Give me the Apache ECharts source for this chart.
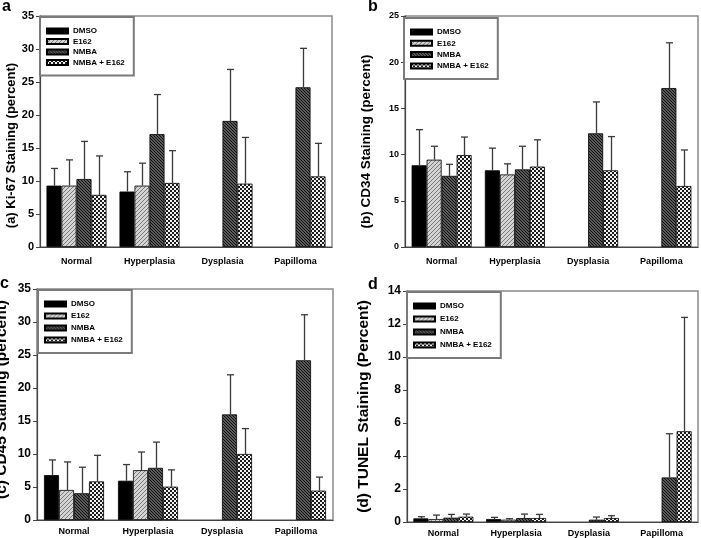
<!DOCTYPE html>
<html><head><meta charset="utf-8">
<script src="https://cdn.jsdelivr.net/npm/echarts@6/dist/echarts.min.js"></script>
<style>html,body{margin:0;padding:0;background:#fff}#c{width:701px;height:538px}</style>
</head><body><div id="c"></div>
<script>
const categories = ['Normal', 'Hyperplasia', 'Dysplasia', 'Papilloma'];
const seriesNames = ['DMSO', 'E162', 'NMBA', 'NMBA + E162'];

// Panel a: Ki-67
const aDMSO = [9.3, 8.4, null, null];      const aDMSOErr = [11.9, 11.4, null, null];
const aE162 = [9.3, 9.3, null, null];      const aE162Err = [13.2, 12.7, null, null];
const aNMBA = [10.3, 17.1, 19.1, 24.2];    const aNMBAErr = [16.0, 23.1, 26.9, 30.1];
const aNMBAE162 = [7.9, 9.7, 9.6, 10.7];   const aNMBAE162Err = [13.8, 14.6, 16.6, 15.7];

// Panel b: CD34
const bDMSO = [8.85, 8.3, null, null];     const bDMSOErr = [12.7, 10.7, null, null];
const bE162 = [9.45, 7.85, null, null];    const bE162Err = [10.9, 9.0, null, null];
const bNMBA = [7.7, 8.4, 12.3, 17.2];      const bNMBAErr = [8.95, 10.9, 15.7, 22.1];
const bNMBAE162 = [9.95, 8.7, 8.3, 6.6];   const bNMBAE162Err = [11.9, 11.6, 11.95, 10.5];

// Panel c: CD45
const cDMSO = [6.8, 5.95, null, null];     const cDMSOErr = [9.1, 8.4, null, null];
const cE162 = [4.55, 7.55, null, null];    const cE162Err = [8.8, 10.3, null, null];
const cNMBA = [4.05, 7.9, 16.0, 24.2];     const cNMBAErr = [8.0, 11.8, 22.0, 31.1];
const cNMBAE162 = [5.85, 5.05, 10.0, 4.45];const cNMBAE162Err = [9.8, 7.6, 13.85, 6.5];

// Panel d: TUNEL
const dDMSO = [0.22, 0.18, null, null];    const dDMSOErr = [0.32, 0.28, null, null];
const dE162 = [0.18, 0.14, null, null];    const dE162Err = [0.42, 0.2, null, null];
const dNMBA = [0.26, 0.24, 0.14, 2.7];     const dNMBAErr = [0.46, 0.48, 0.3, 5.35];
const dNMBAE162 = [0.32, 0.24, 0.24, 5.5]; const dNMBAE162Err = [0.48, 0.46, 0.38, 12.4];

const yTitles = ['(a) Ki-67 Staining (percent)', '(b) CD34 Staining (percent)', '(c) CD45 Staining (percent)', '(d) TUNEL Staining (Percent)'];
const panelLetters = ['a', 'b', 'c', 'd'];
const yMax = [35, 25, 35, 14];
const yInterval = [5, 5, 5, 2];

const panels = [
  { vals: [aDMSO, aE162, aNMBA, aNMBAE162], errs: [aDMSOErr, aE162Err, aNMBAErr, aNMBAE162Err] },
  { vals: [bDMSO, bE162, bNMBA, bNMBAE162], errs: [bDMSOErr, bE162Err, bNMBAErr, bNMBAE162Err] },
  { vals: [cDMSO, cE162, cNMBA, cNMBAE162], errs: [cDMSOErr, cE162Err, cNMBAErr, cNMBAE162Err] },
  { vals: [dDMSO, dE162, dNMBA, dNMBAE162], errs: [dDMSOErr, dE162Err, dNMBAErr, dNMBAE162Err] }
];

// ---- patterns ----
function tile(n, draw) {
  const cv = document.createElement('canvas'); cv.width = n; cv.height = n;
  const g = cv.getContext('2d'); draw(g, n); return cv;
}
const patE162 = tile(4, (g, n) => {
  g.fillStyle = '#d4d4d4'; g.fillRect(0, 0, n, n);
  g.fillStyle = '#7a7a7a';
  for (let i = 0; i < n; i++) g.fillRect(i, n - 1 - i, 1, 1);
});
const patNMBA = tile(3, (g, n) => {
  g.fillStyle = '#5a5a5a'; g.fillRect(0, 0, n, n);
  g.fillStyle = '#111';
  for (let i = 0; i < n; i++) g.fillRect(i, i, 1, 1);
});
const patCheck = tile(4, (g, n) => {
  g.fillStyle = '#f2f2f2'; g.fillRect(0, 0, n, n);
  g.fillStyle = '#1a1a1a';
  g.fillRect(0, 0, 2, 2); g.fillRect(2, 2, 2, 2);
});
const fills = [
  '#000',
  { image: patE162, repeat: 'repeat' },
  { image: patNMBA, repeat: 'repeat' },
  { image: patCheck, repeat: 'repeat' }
];

// ---- layout ----
const grids = [
  { left: 40, top: 16, width: 292, height: 231 },
  { left: 405, top: 16, width: 293, height: 231 },
  { left: 37, top: 289, width: 296, height: 231 },
  { left: 407, top: 291, width: 291, height: 231 }
];
const tickFont = [11, 9, 12, 12];
const nameFont = [13, 13.5, 15.5, 15.5];
const nameGap = [22, 32, 27, 35];
const namePad = [[0, 28, 0, 0], [0, 20, 0, 0], [0, 0, 0, 10], [0, 0, 0, 0]];
const catMargin = [10, 10, 7, 7];
const legendPos = [
  { left: 40, top: 17, gap: 0.5 },
  { left: 404, top: 18, gap: 1.3 },
  { left: 38, top: 290, gap: 2 },
  { left: 407, top: 292, gap: 3 }
];
const letterPos = [[2, -1], [368, -1], [0, 276], [368, 277]];

const BW = 15;
const option = {
  animation: false,
  backgroundColor: '#fff',
  textStyle: { fontFamily: 'Liberation Sans, Arial, sans-serif' },
  title: panelLetters.map((t, i) => ({
    text: t, left: letterPos[i][0], top: letterPos[i][1], padding: 0,
    textStyle: { fontSize: 16, fontWeight: 'bold', color: '#000', fontFamily: 'Liberation Sans, Arial, sans-serif' }
  })),
  legend: legendPos.map((p, i) => ({
    left: p.left, top: p.top, orient: 'vertical',
    data: seriesNames, selectedMode: false, icon: 'rect',
    itemWidth: 21, itemHeight: 5, itemGap: p.gap,
    padding: [9, 9, 8, 6],
    borderColor: '#7a7a7a', borderWidth: 2, backgroundColor: '#fff',
    textStyle: { fontSize: 8, fontWeight: 'bold', color: '#000', lineHeight: 10, fontFamily: 'Liberation Sans, Arial, sans-serif' }
  })),
  grid: grids.map(g => Object.assign({ show: true, borderColor: '#8a8a8a', borderWidth: 1.5, backgroundColor: 'transparent', containLabel: false, outerBoundsMode: 'none' }, g)),
  xAxis: grids.map((g, i) => ({
    type: 'category', gridIndex: i, data: categories,
    axisLine: { lineStyle: { color: '#444', width: 1.2 } },
    axisTick: { alignWithLabel: true, length: 4, lineStyle: { color: '#444' } },
    axisLabel: { fontSize: 9, fontWeight: 'bold', color: '#000', margin: catMargin[i] },
    splitLine: { show: false }
  })),
  yAxis: grids.map((g, i) => ({
    type: 'value', gridIndex: i, min: 0, max: yMax[i], interval: yInterval[i],
    name: yTitles[i], nameLocation: 'middle', nameGap: nameGap[i],
    nameTextStyle: { fontSize: nameFont[i], fontWeight: 'bold', color: '#000', padding: namePad[i] },
    axisLine: { show: true, lineStyle: { color: '#444', width: 1.2 } },
    axisTick: { show: true, length: 4, lineStyle: { color: '#444' } },
    axisLabel: { fontSize: tickFont[i], fontWeight: 'bold', color: '#000', margin: 6 },
    splitLine: { show: false }
  })),
  series: []
};

panels.forEach((p, pi) => {
  p.vals.forEach((v, si) => {
    option.series.push({
      type: 'bar', name: seriesNames[si], xAxisIndex: pi, yAxisIndex: pi,
      data: v.map(x => x == null ? '-' : x),
      barWidth: BW, barGap: '0%',
      itemStyle: { color: fills[si], borderColor: '#000', borderWidth: 0.8 },
      z: 2
    });
  });
  p.vals.forEach((v, si) => {
    const data = [];
    v.forEach((x, ci) => { if (x != null && p.errs[si][ci] != null) data.push([ci, x, p.errs[si][ci]]); });
    const offset = (si - 1.5) * BW;
    option.series.push({
      type: 'custom', name: 'err' + pi + si, xAxisIndex: pi, yAxisIndex: pi,
      encode: { x: 0, y: [1, 2] }, data: data, z: 3, silent: true,
      renderItem: function (params, api) {
        const ci = api.value(0);
        const base = api.coord([ci, api.value(1)]);
        const top = api.coord([ci, api.value(2)]);
        const x = Math.round(base[0] + offset) + 0.5;
        const st = { stroke: '#3a3a3a', lineWidth: 1.3 };
        return {
          type: 'group', children: [
            { type: 'line', shape: { x1: x, y1: base[1], x2: x, y2: top[1] }, style: st },
            { type: 'line', shape: { x1: x - 3.5, y1: top[1], x2: x + 3.5, y2: top[1] }, style: st }
          ]
        };
      }
    });
  });
});

const chart = echarts.init(document.getElementById('c'), null, { renderer: 'canvas' });
chart.setOption(option);
</script>
</body></html>
